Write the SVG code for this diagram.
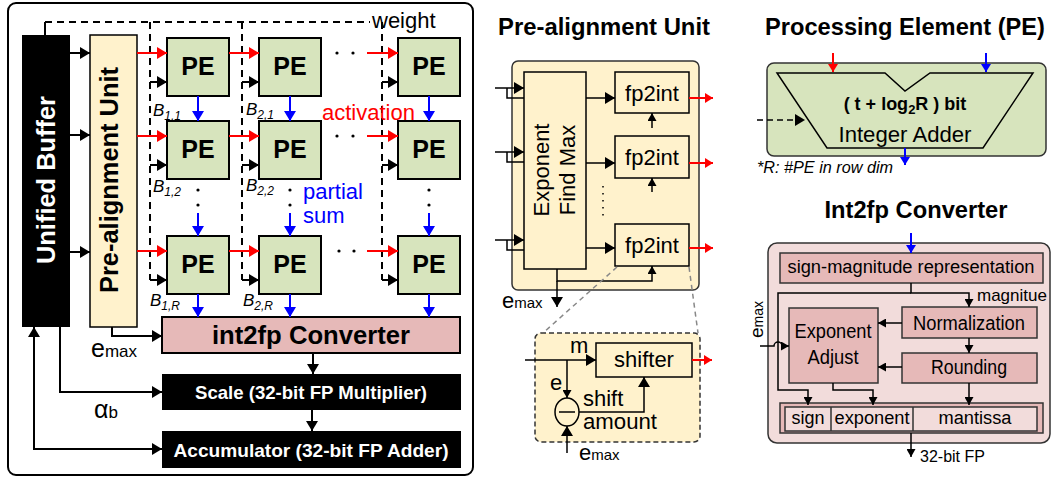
<svg xmlns="http://www.w3.org/2000/svg" width="1052" height="478" viewBox="0 0 1052 478">
<style>
text{font-family:"Liberation Sans",Arial,sans-serif;fill:#000}
.b{font-weight:bold}
.pe{fill:#D7E4BD;stroke:#000;stroke-width:2}
.pet{font-size:25px;font-weight:bold;text-anchor:middle}
.cream{fill:#FFF2CC;stroke:#000;stroke-width:1.5}
.pink{fill:#E6B9B8;stroke:#333;stroke-width:1.5}
.lk{fill:none;stroke:#000;stroke-width:2}
.lk15{fill:none;stroke:#000;stroke-width:1.5}
.lr{fill:none;stroke:#F00;stroke-width:2}
.lb{fill:none;stroke:#00F;stroke-width:2}
.dash{fill:none;stroke:#000;stroke-width:2;stroke-dasharray:7,5}
.gd{fill:none;stroke:#888;stroke-width:1.5;stroke-dasharray:5,4}
.mid{text-anchor:middle}
.sub{font-size:12px;font-style:italic}
.bl{font-size:17px;font-style:italic}
.f22{font-size:22px}
.f20{font-size:20px}
.f18{font-size:18px}
.mk{marker-end:url(#ak)}
.mks{marker-end:url(#aks)}
.mr{marker-end:url(#ar)}
.mrs{marker-end:url(#ars)}
.mb{marker-end:url(#ab)}
.mbs{marker-end:url(#abs)}
</style>
<defs>
<marker id="ak" viewBox="0 0 10 12" refX="10" refY="6" markerWidth="10" markerHeight="12" markerUnits="userSpaceOnUse" orient="auto-start-reverse"><path d="M0,0L10,6L0,12z" fill="#000"/></marker>
<marker id="aks" viewBox="0 0 8 9" refX="8" refY="4.5" markerWidth="8" markerHeight="9" markerUnits="userSpaceOnUse" orient="auto"><path d="M0,0L8,4.5L0,9z" fill="#000"/></marker>
<marker id="ar" viewBox="0 0 10 12" refX="10" refY="6" markerWidth="10" markerHeight="12" markerUnits="userSpaceOnUse" orient="auto"><path d="M0,0L10,6L0,12z" fill="#F00"/></marker>
<marker id="ab" viewBox="0 0 10 12" refX="10" refY="6" markerWidth="10" markerHeight="12" markerUnits="userSpaceOnUse" orient="auto"><path d="M0,0L10,6L0,12z" fill="#00F"/></marker>
<marker id="ars" viewBox="0 0 8 10" refX="8" refY="5" markerWidth="8" markerHeight="10" markerUnits="userSpaceOnUse" orient="auto"><path d="M0,0L8,5L0,10z" fill="#F00"/></marker>
<marker id="abs" viewBox="0 0 8 10" refX="8" refY="5" markerWidth="8" markerHeight="10" markerUnits="userSpaceOnUse" orient="auto"><path d="M0,0L8,5L0,10z" fill="#00F"/></marker>
</defs>
<rect width="1052" height="478" fill="#fff"/>

<!-- ============ LEFT PANEL ============ -->
<rect id="frame" x="8" y="3" width="465" height="472" rx="8" fill="#fff" stroke="#000" stroke-width="2"/>

<g id="unified-buffer">
<rect x="22" y="35" width="48" height="292" fill="#000"/>
<text transform="translate(55,180) rotate(-90)" class="mid b" font-size="25" style="fill:#fff" textLength="168" lengthAdjust="spacingAndGlyphs">Unified Buffer</text>
</g>
<g id="pre-alignment-unit">
<rect x="90" y="35" width="47" height="292" class="cream"/>
<text transform="translate(118,180) rotate(-90)" class="mid b" font-size="25" textLength="226" lengthAdjust="spacingAndGlyphs">Pre-alignment Unit</text>
</g>

<g id="pe-1-1"><rect x="167" y="38" width="62" height="58" class="pe"/><text x="198" y="75" class="pet">PE</text></g>
<g id="pe-2-1"><rect x="259" y="38" width="62" height="58" class="pe"/><text x="290" y="75" class="pet">PE</text></g>
<g id="pe-c-1"><rect x="398" y="38" width="62" height="58" class="pe"/><text x="429" y="75" class="pet">PE</text></g>
<g id="pe-1-2"><rect x="167" y="121" width="62" height="58" class="pe"/><text x="198" y="158" class="pet">PE</text></g>
<g id="pe-2-2"><rect x="259" y="121" width="62" height="58" class="pe"/><text x="290" y="158" class="pet">PE</text></g>
<g id="pe-c-2"><rect x="398" y="121" width="62" height="58" class="pe"/><text x="429" y="158" class="pet">PE</text></g>
<g id="pe-1-r"><rect x="167" y="236" width="62" height="58" class="pe"/><text x="198" y="273" class="pet">PE</text></g>
<g id="pe-2-r"><rect x="259" y="236" width="62" height="58" class="pe"/><text x="290" y="273" class="pet">PE</text></g>
<g id="pe-c-r"><rect x="398" y="236" width="62" height="58" class="pe"/><text x="429" y="273" class="pet">PE</text></g>

<g id="int2fp-converter">
<rect x="162" y="317" width="298" height="36" fill="#E6B9B8" stroke="#000" stroke-width="2"/>
<text x="311" y="344" class="mid b" font-size="25" textLength="198" lengthAdjust="spacingAndGlyphs">int2fp Converter</text>
</g>
<g id="scale">
<rect x="162" y="374" width="299" height="36" fill="#000"/>
<text x="311" y="399" class="mid b" font-size="19" style="fill:#fff" textLength="232" lengthAdjust="spacingAndGlyphs">Scale (32-bit FP Multiplier)</text>
</g>
<g id="accumulator">
<rect x="162" y="431" width="299" height="37" fill="#000"/>
<text x="311" y="457" class="mid b" font-size="19" style="fill:#fff" textLength="275" lengthAdjust="spacingAndGlyphs">Accumulator (32-bit FP Adder)</text>
</g>

<g id="left-connectors">
<path d="M45,35V22" class="lk"/>
<path d="M45,22H370M150,22V280M242,22V280M382,22V280" class="dash"/>
<path d="M150,82H167" class="lk mk"/><path d="M150,165H167" class="lk mk"/><path d="M150,280H167" class="lk mk"/>
<path d="M242,82H259" class="lk mk"/><path d="M242,165H259" class="lk mk"/><path d="M242,280H259" class="lk mk"/>
<path d="M382,82H398" class="lk mk"/><path d="M382,165H398" class="lk mk"/><path d="M382,280H398" class="lk mk"/>
<path d="M70,53H90" class="lk mk"/><path d="M70,135H90" class="lk mk"/><path d="M70,252H90" class="lk mk"/>
<path d="M137,53H167" class="lr mr"/><path d="M229,53H259" class="lr mr"/><path d="M367,53H398" class="lr mr"/>
<path d="M137,136H167" class="lr mr"/><path d="M229,136H259" class="lr mr"/><path d="M367,136H398" class="lr mr"/>
<path d="M137,251H167" class="lr mr"/><path d="M229,251H259" class="lr mr"/><path d="M367,251H398" class="lr mr"/>
<g fill="#000">
<circle cx="337" cy="53" r="1.6"/><circle cx="353" cy="53" r="1.6"/>
<circle cx="337" cy="136" r="1.6"/><circle cx="353" cy="136" r="1.6"/>
<circle cx="339" cy="251" r="1.6"/><circle cx="354" cy="251" r="1.6"/>
<circle cx="198" cy="190" r="1.6"/><circle cx="198" cy="205" r="1.6"/>
<circle cx="290" cy="190" r="1.6"/><circle cx="290" cy="205" r="1.6"/>
<circle cx="429" cy="190" r="1.6"/><circle cx="429" cy="205" r="1.6"/>
</g>
<path d="M198,96V121" class="lb mb"/><path d="M290,96V121" class="lb mb"/><path d="M429,96V121" class="lb mb"/>
<path d="M198,213V236" class="lb mb"/><path d="M290,213V236" class="lb mb"/><path d="M429,213V236" class="lb mb"/>
<path d="M198,294V317" class="lb mb"/><path d="M290,294V317" class="lb mb"/><path d="M429,294V317" class="lb mb"/>
<path d="M112,327V336H162" class="lk mk"/>
<path d="M313,353V374" class="lk mk"/><path d="M312,410V431" class="lk mk"/>
<path d="M60,327V392H162" class="lk mk"/>
<path d="M162,449H34V327" class="lk" marker-start="url(#ak)" marker-end="url(#ak)"/>
</g>

<g id="left-labels">
<text x="153" y="116" class="bl">B<tspan class="sub" dy="4">1,1</tspan></text>
<text x="153" y="192" class="bl">B<tspan class="sub" dy="4">1,2</tspan></text>
<text x="150" y="306" class="bl">B<tspan class="sub" dy="4">1,R</tspan></text>
<text x="246" y="115" class="bl">B<tspan class="sub" dy="4">2,1</tspan></text>
<text x="246" y="191" class="bl">B<tspan class="sub" dy="4">2,2</tspan></text>
<text x="243" y="306" class="bl">B<tspan class="sub" dy="4">2,R</tspan></text>
<text x="372" y="28" font-size="22">weight</text>
<text x="322" y="120" font-size="22" style="fill:#F00">activation</text>
<text x="303" y="199" font-size="22" style="fill:#00F">partial</text>
<text x="303" y="223" font-size="22" style="fill:#00F">sum</text>
<text x="91" y="357" font-size="25">e<tspan font-size="17">max</tspan></text>
<text x="94" y="418" font-size="25">α<tspan font-size="17">b</tspan></text>
</g>

<!-- ============ MIDDLE PANEL ============ -->
<text x="604" y="35" class="mid b" font-size="24" textLength="212" lengthAdjust="spacingAndGlyphs">Pre-alignment Unit</text>
<g id="pre-align-detail">
<rect x="512" y="61" width="187" height="229" rx="6" fill="#FFF2CC" stroke="#333" stroke-width="1.5"/>
</g>
<g id="exponent-find-max">
<rect x="524" y="72" width="62" height="197" class="cream"/>
<text transform="translate(549,170) rotate(-90)" class="mid f22">Exponent</text>
<text transform="translate(575,170) rotate(-90)" class="mid f22">Find Max</text>
</g>
<g id="fp2int-1"><rect x="615" y="72" width="74" height="41" class="cream"/><text x="652" y="101" class="mid f22">fp2int</text></g>
<g id="fp2int-2"><rect x="615" y="136" width="74" height="42" class="cream"/><text x="652" y="165" class="mid f22">fp2int</text></g>
<g id="fp2int-3"><rect x="615" y="224" width="74" height="42" class="cream"/><text x="652" y="253" class="mid f22">fp2int</text></g>

<g id="shifter-detail">
<rect x="535" y="333" width="165" height="109" rx="6" fill="#FFF2CC" stroke="#333" stroke-width="1.5" stroke-dasharray="5,3"/>
</g>
<g id="shifter"><rect x="596" y="343" width="96" height="34" class="cream"/><text x="644" y="367" class="mid f22">shifter</text></g>
<g id="subtractor"><ellipse cx="567" cy="412" rx="12" ry="14" class="cream"/><path d="M559,412H575" class="lk15"/></g>

<g id="middle-connectors">
<path d="M495,88H524" class="lk15 mk"/><path d="M495,152H524" class="lk15 mk"/><path d="M495,240H524" class="lk15 mk"/>
<path d="M507,88V98H524M507,152V162H524M507,240V250H524" class="lk15"/>
<path d="M586,98H615" class="lk15 mk"/><path d="M586,163H615" class="lk15 mk"/><path d="M586,248H615" class="lk15 mk"/>
<path d="M689,98H713" class="lr mrs"/><path d="M689,163H713" class="lr mrs"/><path d="M689,248H713" class="lr mrs"/>
<path d="M652,128V113" class="lk15 mks"/><path d="M652,192V178" class="lk15 mks"/>
<path d="M557,269V281H652V266" class="lk15 mks"/>
<path d="M557,281V307" class="lk15 mk"/>
<path d="M603,186V220" stroke="#000" stroke-width="1.5" stroke-dasharray="1.5,5.5" fill="none"/>
<path d="M617,267L543,333M689,267L698,333" class="gd"/>
<path d="M525,360H596" class="lk15 mk"/>
<path d="M567,360V398" class="lk15 mks"/>
<path d="M579,412H644V377" class="lk15 mk"/>
<path d="M567,453V426" class="lk15 mk"/>
<path d="M692,360H712" class="lr mrs"/>
</g>
<g id="middle-labels">
<text x="502" y="308" font-size="22">e<tspan font-size="15">max</tspan></text>
<text x="570" y="353" class="f22">m</text>
<text x="550" y="390" class="f22">e</text>
<text x="583" y="406" class="f22">shift</text>
<text x="583" y="429" class="f22" textLength="74" lengthAdjust="spacingAndGlyphs">amount</text>
<text x="579" y="460" font-size="22">e<tspan font-size="15">max</tspan></text>
</g>

<!-- ============ RIGHT PANEL: PE ============ -->
<text x="905" y="35" class="mid b" font-size="24" textLength="280" lengthAdjust="spacingAndGlyphs">Processing Element (PE)</text>
<g id="pe-detail">
<rect x="767" y="63" width="279" height="93" rx="7" fill="#D7E4BD" stroke="#333" stroke-width="1.5"/>
<polygon points="777,73 885,73 905,91 930,73 1033,73 983,148 827,148" fill="none" stroke="#000" stroke-width="1.5"/>
<text x="905" y="110" class="mid b" font-size="18">( t + log<tspan font-size="13" dy="4">2</tspan><tspan dy="-4">R ) bit</tspan></text>
<text x="905" y="142" class="mid f22" textLength="133" lengthAdjust="spacingAndGlyphs">Integer Adder</text>
</g>
<g id="pe-connectors">
<path d="M833,53V72" class="lr mrs"/>
<path d="M986,53V72" class="lb mbs"/>
<path d="M905,148V165" class="lb mbs"/>
<path d="M757,120H805" class="lk15 mk" stroke-dasharray="6,4"/>
</g>
<text x="757" y="173" font-size="16" font-style="italic" textLength="136" lengthAdjust="spacingAndGlyphs">*R: #PE in row dim</text>

<!-- ============ RIGHT PANEL: INT2FP ============ -->
<text x="916" y="218" class="mid b" font-size="24" textLength="183" lengthAdjust="spacingAndGlyphs">Int2fp Converter</text>
<g id="int2fp-detail">
<rect x="768" y="243" width="282" height="200" rx="9" fill="#F2DCDB" stroke="#333" stroke-width="1.5"/>
</g>
<g id="sign-magnitude"><rect x="780" y="253" width="263" height="30" class="pink"/><text x="911" y="273" class="mid f18" textLength="247" lengthAdjust="spacingAndGlyphs">sign-magnitude representation</text></g>
<g id="normalization"><rect x="902" y="307" width="135" height="31" class="pink"/><text x="969" y="330" class="mid f20" textLength="112" lengthAdjust="spacingAndGlyphs">Normalization</text></g>
<g id="rounding"><rect x="902" y="353" width="135" height="30" class="pink"/><text x="969" y="374" class="mid f20" textLength="76" lengthAdjust="spacingAndGlyphs">Rounding</text></g>
<g id="exponent-adjust"><rect x="789" y="308" width="89" height="75" class="pink"/><text x="833" y="338" class="mid f20" textLength="77" lengthAdjust="spacingAndGlyphs">Exponent</text><text x="833" y="364" class="mid f20" textLength="51" lengthAdjust="spacingAndGlyphs">Adjust</text></g>
<g id="fp-fields">
<rect x="780" y="403" width="263" height="30" class="pink"/>
<rect x="785" y="407" width="252" height="24" fill="#F2DCDB" stroke="#333" stroke-width="1.5"/>
<path d="M831,407V431M913,407V431" stroke="#333" stroke-width="1.5"/>
<text x="808" y="424" class="mid f18" textLength="33" lengthAdjust="spacingAndGlyphs">sign</text>
<text x="872" y="424" class="mid f18" textLength="75" lengthAdjust="spacingAndGlyphs">exponent</text>
<text x="975" y="424" class="mid f18" textLength="73" lengthAdjust="spacingAndGlyphs">mantissa</text>
</g>
<g id="int2fp-connectors">
<path d="M911,233V253" class="lb mbs"/>
<path d="M911,283V293H969V307" class="lk15 mks"/>
<path d="M911,293H778V390H808V405" class="lk15 mks"/>
<path d="M969,338V353" class="lk15 mks"/>
<path d="M902,323H878" class="lk15 mks"/><path d="M902,367H878" class="lk15 mks"/>
<path d="M760,346H774A4,4 0 0 1 782,346H789" class="lk15 mks"/>
<path d="M833,383V390H873V405" class="lk15 mks"/>
<path d="M969,383V405" class="lk15 mks"/>
<path d="M911,433V457" class="lk15 mks"/>
</g>
<text x="977" y="301" font-size="17">magnitue</text>
<text transform="translate(763,338) rotate(-90)" font-size="19">e<tspan font-size="14">max</tspan></text>
<text x="920" y="462" font-size="16">32-bit FP</text>
</svg>
